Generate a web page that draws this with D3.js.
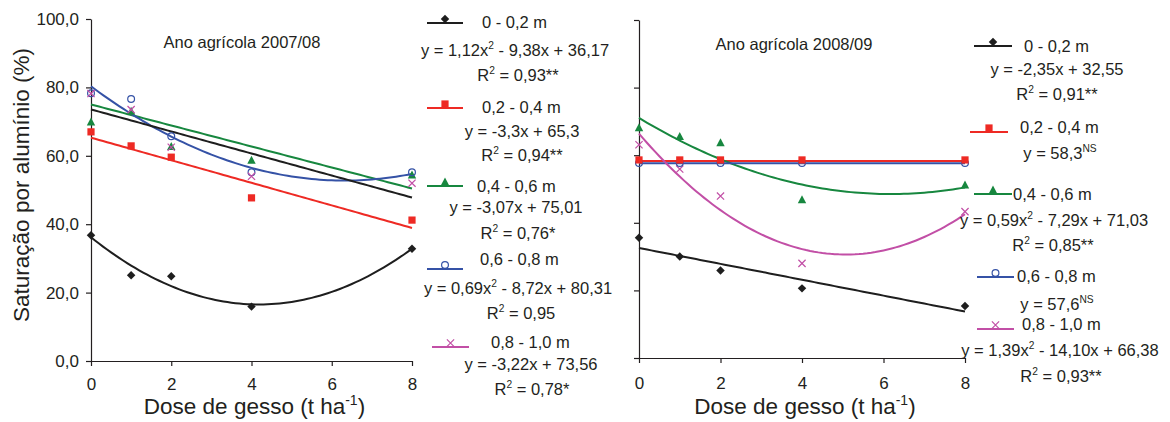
<!DOCTYPE html>
<html>
<head>
<meta charset="utf-8">
<script src="https://cdn.jsdelivr.net/npm/d3@7"></script>
<style>
  body { margin: 0; background: #fff; }
  text { font-family: "Liberation Sans", Arial, sans-serif; fill: #231f20; }
</style>
</head>
<body>
<script>
// doses de gesso (t/ha)
var doses = [0, 1, 2, 4, 8];
var layers = ["0 - 0,2 m", "0,2 - 0,4 m", "0,4 - 0,6 m", "0,6 - 0,8 m", "0,8 - 1,0 m"];
var yTicks = [0, 20, 40, 60, 80, 100];
var xTicks = [0, 2, 4, 6, 8];

// Ano agricola 2007/08
var sat0708_00_02 = [36.8, 25.1, 24.8, 15.9, 32.8];
var sat0708_02_04 = [67.0, 62.9, 59.6, 47.7, 41.2];
var sat0708_04_06 = [69.9, 73.0, 62.7, 58.7, 54.4];
var sat0708_06_08 = [78.3, 76.6, 65.7, 55.2, 55.2];
var sat0708_08_10 = [78.2, 73.5, 62.5, 54.0, 52.0];
// trend coefficients [a, b, c] of y = a x^2 + b x + c
var fit0708 = [[1.12, -9.38, 36.17], [0, -3.3, 65.3], [0, -3.07, 75.01], [0.69, -8.72, 80.31], [0, -3.22, 73.56]];
var eq0708 = [
    [["y = 1,12x"], ["2", "sup"], [" - 9,38x + 36,17"]],
    [["y = -3,3x + 65,3"]],
    [["y = -3,07x + 75,01"]],
    [["y = 0,69x"], ["2", "sup"], [" - 8,72x + 80,31"]],
    [["y = -3,22x + 73,56"]]
];
var r2_0708 = [[["R"], ["2", "sup"], [" = 0,93**"]], [["R"], ["2", "sup"], [" = 0,94**"]], [["R"], ["2", "sup"], [" = 0,76*"]], [["R"], ["2", "sup"], [" = 0,95"]], [["R"], ["2", "sup"], [" = 0,78*"]]];

// Ano agricola 2008/09
var sat0809_00_02 = [35.6, 30.0, 25.9, 20.6, 15.4];
var sat0809_02_04 = [58.6, 58.6, 58.6, 58.6, 58.6];
var sat0809_04_06 = [68.1, 65.5, 63.7, 46.8, 51.2];
var sat0809_06_08 = [57.7, 57.7, 57.7, 57.7, 57.7];
var sat0809_08_10 = [63.1, 55.9, 47.9, 28.0, 43.3];
var fit0809 = [[0, -2.35, 32.55], [0, 0, 58.3], [0.59, -7.29, 71.03], [0, 0, 57.6], [1.39, -14.10, 66.38]];
var eq0809 = [
    [["y = -2,35x + 32,55"]],
    [["y = 58,3"], ["NS", "sup"]],
    [["y = 0,59x"], ["2", "sup"], [" - 7,29x + 71,03"]],
    [["y = 57,6"], ["NS", "sup"]],
    [["y = 1,39x"], ["2", "sup"], [" - 14,10x + 66,38"]]
];
var r2_0809 = [[["R"], ["2", "sup"], [" = 0,91**"]], null, [["R"], ["2", "sup"], [" = 0,85**"]], null, [["R"], ["2", "sup"], [" = 0,93**"]]];

var colors = ["#1e1e1e", "#ee2a24", "#17873f", "#3552a6", "#c24fa6"];
var markers = ["diamond", "square", "triangle", "circle", "cross"];

var svg = d3.select("body").append("svg")
    .attr("width", 1170)
    .attr("height", 422);

function drawMarker(g, type, color, x, y) {
    if (type == "diamond") {
        g.append("path").attr("d", d3.symbol().type(d3.symbolSquare).size(36)())
            .attr("transform", `translate(${x},${y}) rotate(45)`).attr("fill", color);
    } else if (type == "square") {
        g.append("path").attr("d", d3.symbol().type(d3.symbolSquare).size(52)())
            .attr("transform", `translate(${x},${y})`).attr("fill", color);
    } else if (type == "triangle") {
        g.append("path").attr("d", "M0,-4.5L4.2,3.5L-4.2,3.5Z")
            .attr("transform", `translate(${x},${y})`).attr("fill", color);
    } else if (type == "circle") {
        g.append("circle").attr("cx", x).attr("cy", y).attr("r", 3.4)
            .attr("fill", "none").attr("stroke", color).attr("stroke-width", 1.2);
    } else {
        g.append("path").attr("d", "M-3.6,-3.6L3.6,3.6M-3.6,3.6L3.6,-3.6")
            .attr("transform", `translate(${x},${y})`).attr("stroke", color).attr("stroke-width", 1.2);
    }
}

function richText(g, parts, x, y, anchor, size) {
    var t = g.append("text").attr("x", x).attr("y", y)
        .attr("text-anchor", anchor).attr("font-size", size);
    parts.forEach(function (p) {
        var s = t.append("tspan").text(p[0]);
        if (p[1] == "sup") s.attr("font-size", size * 0.62).attr("dy", -size * 0.42);
        else if (s.node().previousSibling) s.attr("dy", size * 0.42);
    });
    return t;
}

var fmt = function (d) { return d3.format(".1f")(d).replace(".", ","); };

function drawPanel(cfg) {
    var x = d3.scaleLinear().domain([0, 8]).range(cfg.xRange);
    var y = d3.scaleLinear().domain([0, 100]).range(cfg.yRange);
    var g = svg.append("g");

    var yAxis = g.append("g")
        .attr("transform", `translate(${cfg.xRange[0]},0)`)
        .call(d3.axisLeft(y).tickValues(yTicks).tickSize(5).tickSizeOuter(0).tickPadding(7)
            .tickFormat(cfg.yLabels ? fmt : ""));
    var xAxis = g.append("g")
        .attr("transform", `translate(0,${cfg.yRange[0]})`)
        .call(d3.axisBottom(x).tickValues(xTicks).tickSize(5).tickSizeOuter(0).tickPadding(cfg.xPad));
    [yAxis, xAxis].forEach(function (a) {
        a.selectAll("path, line").attr("stroke", "#231f20").attr("stroke-width", 1.2);
        a.selectAll("text").attr("font-size", 17).attr("fill", "#231f20")
            .attr("font-family", "'Liberation Sans', Arial, sans-serif");
    });

    g.append("text")
        .attr("x", cfg.titlePos[0]).attr("y", cfg.titlePos[1])
        .attr("text-anchor", "middle").attr("font-size", 16.5)
        .text(cfg.title);

    g.append("text")
        .attr("x", (cfg.xRange[0] + cfg.xRange[1]) / 2 + 3).attr("y", 414)
        .attr("text-anchor", "middle").attr("font-size", 22.5)
        .call(function (t) {
            t.append("tspan").text("Dose de gesso (t ha");
            t.append("tspan").text("-1").attr("font-size", 14).attr("dy", -9);
            t.append("tspan").text(")").attr("dy", 9);
        });

    var line = d3.line().x(d => x(d[0])).y(d => y(d[1]));

    // trend lines
    cfg.fits.forEach(function (c, i) {
        var pts = d3.range(0, 8.001, 0.1).map(function (v) { return [v, c[0] * v * v + c[1] * v + c[2]]; });
        g.append("path").datum(pts)
            .attr("d", line)
            .attr("fill", "none")
            .attr("stroke", cfg.lineColors[i])
            .attr("stroke-width", 2);
    });

    // points
    cfg.series.forEach(function (s, i) {
        var idx = cfg.order[i];
        cfg.series[idx].forEach(function (v, j) {
            drawMarker(g, markers[idx], colors[idx], x(doses[j]), y(v));
        });
    });

    // legend
    cfg.legend.forEach(function (L, i) {
        g.append("line")
            .attr("x1", L.line[0]).attr("x2", L.line[1])
            .attr("y1", L.line[2]).attr("y2", L.line[2])
            .attr("stroke", colors[i]).attr("stroke-width", 2.2);
        drawMarker(g, markers[i], colors[i], (L.line[0] + L.line[1]) / 2, L.line[2] - 4);
        g.append("text").attr("x", L.label[0]).attr("y", L.label[1])
            .attr("font-size", 16.5).text(layers[i]);
        richText(g, cfg.eqs[i], L.eq[0], L.eq[1], "middle", 16.5);
        if (cfg.r2[i]) richText(g, cfg.r2[i], L.r2[0], L.r2[1], "middle", 16.5);
    });
}

drawPanel({
    xRange: [91, 412], yRange: [361, 19], yLabels: true, xPad: 12,
    title: "Ano agrícola 2007/08", titlePos: [242, 48],
    series: [sat0708_00_02, sat0708_02_04, sat0708_04_06, sat0708_06_08, sat0708_08_10],
    order: [1, 2, 0, 3, 4],
    fits: fit0708,
    lineColors: [colors[0], colors[1], colors[2], colors[3], colors[0]],
    eqs: eq0708, r2: r2_0708,
    legend: [
        { line: [427, 463, 23], label: [482, 28], eq: [515, 56], r2: [518, 81] },
        { line: [427, 463, 108], label: [482, 113], eq: [522, 137], r2: [522, 161] },
        { line: [427, 463, 186], label: [477, 192], eq: [516, 213], r2: [518, 239] },
        { line: [427, 463, 269], label: [480, 265], eq: [518, 294], r2: [521, 319] },
        { line: [432, 469, 347], label: [491, 348], eq: [531, 370], r2: [532, 395] }
    ]
});

drawPanel({
    xRange: [639, 965], yRange: [358, 20], yLabels: false, xPad: 14,
    title: "Ano agrícola 2008/09", titlePos: [794, 50],
    series: [sat0809_00_02, sat0809_02_04, sat0809_04_06, sat0809_06_08, sat0809_08_10],
    order: [0, 2, 4, 3, 1],
    fits: fit0809,
    lineColors: colors,
    eqs: eq0809, r2: r2_0809,
    legend: [
        { line: [974, 1012, 46], label: [1024, 52], eq: [1057, 75], r2: [1057, 100] },
        { line: [970, 1008, 132], label: [1020, 133], eq: [1060, 159], r2: [0, 0] },
        { line: [974, 1012, 194], label: [1013, 200], eq: [1054, 226], r2: [1053, 251] },
        { line: [977, 1014, 277], label: [1017, 282], eq: [1057, 310], r2: [0, 0] },
        { line: [977, 1014, 329], label: [1022, 330], eq: [1060, 356], r2: [1061, 382] }
    ]
});

// y axis title
svg.append("text")
    .attr("transform", "rotate(-90)")
    .attr("x", -185).attr("y", 29)
    .attr("text-anchor", "middle")
    .attr("font-size", 22.5)
    .text("Saturação por alumínio (%)");
</script>
</body>
</html>
